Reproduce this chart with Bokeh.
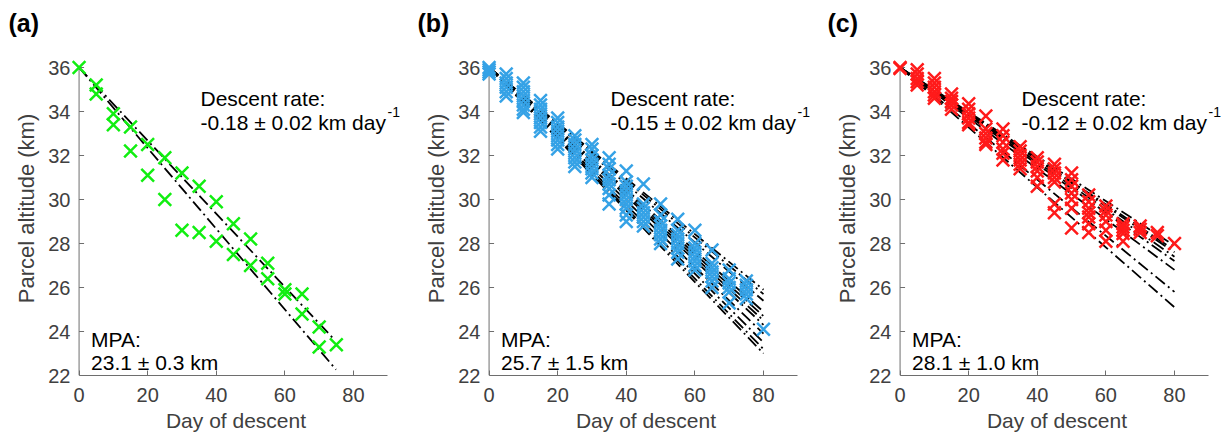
from bokeh.plotting import figure
from bokeh.layouts import row
from bokeh.models import Label, Range1d, FixedTicker
from bokeh.embed import file_html
from bokeh.resources import INLINE

# ---------------- data ----------------
fit_start_day = 0
fit_start_alt = 36.0
x_axis_bounds = (0, 90)
y_axis_bounds = (22, 36)

# (a) green
a_day = [0, 5, 5, 10, 10, 15, 15, 20, 20, 25, 25, 30, 30, 35, 35, 40, 40,
         45, 45, 50, 50, 55, 55, 60, 60, 65, 65, 70, 70, 75]
a_alt = [36.0, 35.2, 34.8, 33.9, 33.4, 33.3, 32.2, 32.5, 31.1, 31.9, 30.0,
         31.2, 28.6, 30.6, 28.5, 29.9, 28.1, 28.9, 27.5, 28.2, 27.0, 27.1,
         26.4, 25.9, 25.7, 25.7, 24.8, 24.2, 23.3, 23.4]
a_fit_end_day = [74.9, 74.0]
a_fit_end_alt = [22.27, 23.7]

# (b) blue
b_clusters = {
    0: [36.0, 35.9, 35.8, 35.7],
    5: [35.7, 35.5, 35.3, 35.1, 34.9, 34.7],
    10: [35.3, 35.1, 34.9, 34.7, 34.5, 34.3, 34.1, 33.95],
    15: [34.5, 34.3, 34.1, 33.9, 33.7, 33.5, 33.3, 33.1],
    20: [33.7, 33.5, 33.3, 33.1, 32.9, 32.7, 32.5, 32.3],
    25: [32.9, 32.7, 32.5, 32.3, 32.1, 31.9, 31.7, 31.5],
    30: [32.5, 32.3, 32.0, 31.8, 31.6, 31.4, 31.2, 31.0],
    35: [31.9, 31.6, 31.4, 31.1, 30.9, 30.7, 30.5, 30.2, 29.8],
    40: [31.3, 30.8, 30.6, 30.4, 30.2, 30.0, 29.8, 29.6, 29.3, 29.0],
    45: [30.7, 29.8, 29.6, 29.4, 29.2, 29.0, 28.8],
    50: [29.8, 29.3, 29.0, 28.8, 28.6, 28.4, 28.2, 28.0],
    55: [29.1, 28.6, 28.4, 28.2, 28.0, 27.8, 27.6, 27.3],
    60: [28.6, 28.0, 27.8, 27.6, 27.4, 27.2, 27.0, 26.8],
    65: [27.7, 27.1, 26.9, 26.7, 26.5, 26.3, 26.0],
    70: [26.8, 26.4, 26.2, 26.0, 25.8, 25.3],
    75: [26.3, 26.1, 25.9, 25.7, 25.5],
    80: [24.1],
}
b_day = [d for d, alts in b_clusters.items() for _ in alts]
b_alt = [a for alts in b_clusters.values() for a in alts]
b_fit_end_day = [80] * 11
b_fit_end_alt = [25.9, 25.7, 25.4, 24.9, 24.7, 24.5, 24.3, 23.9, 23.5, 23.2,
                 23.0]

# (c) red
c_clusters = {
    0: [36.0, 35.95],
    5: [35.9, 35.7, 35.5, 35.35, 35.2],
    10: [35.5, 35.3, 35.1, 34.9, 34.75, 34.6],
    15: [34.8, 34.6, 34.45, 34.3, 34.1],
    20: [34.35, 34.1, 33.9, 33.7, 33.5, 33.4],
    25: [33.8, 33.2, 33.0, 32.8, 32.6, 32.5],
    30: [33.2, 32.9, 32.6, 32.3, 32.1, 31.8],
    35: [32.4, 32.2, 32.0, 31.8, 31.6, 31.4],
    40: [31.9, 31.7, 31.5, 31.3, 31.0, 30.6],
    45: [31.6, 31.4, 31.2, 31.0, 30.8, 29.8, 29.4],
    50: [31.2, 30.9, 30.6, 30.3, 30.0, 29.6, 28.7],
    55: [30.2, 29.9, 29.6, 29.4, 29.2, 28.9, 28.5],
    60: [29.7, 29.5, 29.3, 29.0, 28.6, 28.1],
    65: [28.9, 28.75, 28.6, 28.45, 28.1],
    70: [28.8, 28.65, 28.5],
    75: [28.5, 28.35],
    80: [28.0],
}
c_day = [d for d, alts in c_clusters.items() for _ in alts]
c_alt = [a for alts in c_clusters.values() for a in alts]
c_fit_end_day = [80] * 8
c_fit_end_alt = [27.9, 27.7, 27.6, 27.4, 27.2, 26.8, 25.8, 25.1]

panel_letters = ["(a)", "(b)", "(c)"]
rate_texts = ["-0.18 \u00b1 0.02 km day", "-0.15 \u00b1 0.02 km day",
              "-0.12 \u00b1 0.02 km day"]
mpa_texts = ["23.1 \u00b1 0.3 km", "25.7 \u00b1 1.5 km", "28.1 \u00b1 1.0 km"]
x_ticks = [0, 20, 40, 60, 80]
y_ticks = [22, 24, 26, 28, 30, 32, 34, 36]

FONT = "Liberation Sans"
AXIS_TXT = "#404040"
AXIS_LINE = "#6e6e6e"
FRAME_W = 331
TOP = 41
Y_TOP = 36 + (67 - TOP) / 22.0


def make_panel(letter, days, alts, color, end_days, end_alts, rate, mpa,
               width, left):
    p = figure(width=width, height=437, output_backend="svg",
               toolbar_location=None, x_range=Range1d(-2.5, 94),
               y_range=Range1d(22, Y_TOP),
               min_border_left=left, min_border_right=width - left - FRAME_W,
               min_border_top=TOP, min_border_bottom=62)
    p.outline_line_color = None
    p.xgrid.visible = False
    p.ygrid.visible = False
    p.background_fill_color = "white"
    p.border_fill_color = "white"

    # title letter
    p.title.text = letter
    p.title.align = "left"
    p.title.offset = -(left - 8)
    p.title.standoff = 10
    p.title.text_font = FONT
    p.title.text_font_size = "25px"
    p.title.text_font_style = "bold"
    p.title.text_color = "black"

    # x axis
    xa = p.xaxis[0]
    xa.ticker = FixedTicker(ticks=x_ticks)
    xa.bounds = x_axis_bounds
    xa.major_tick_in = 5
    xa.major_tick_out = 0
    xa.minor_tick_line_color = None
    xa.axis_line_color = AXIS_LINE
    xa.major_tick_line_color = AXIS_LINE
    xa.major_label_text_font = FONT
    xa.major_label_text_font_size = "20px"
    xa.major_label_text_color = AXIS_TXT
    xa.major_label_standoff = 12
    xa.axis_label = "Day of descent"
    xa.axis_label_text_font = FONT
    xa.axis_label_text_font_size = "21px"
    xa.axis_label_text_font_style = "normal"
    xa.axis_label_text_color = AXIS_TXT
    xa.axis_label_standoff = 4

    # y axis: labels only (in the left panel)
    ya = p.yaxis[0]
    ya.ticker = FixedTicker(ticks=y_ticks)
    ya.axis_line_color = None
    ya.major_tick_line_color = None
    ya.minor_tick_line_color = None
    ya.major_tick_in = 0
    ya.major_tick_out = 0
    ya.major_label_text_font = FONT
    ya.major_label_text_font_size = "20px"
    ya.major_label_text_color = AXIS_TXT
    ya.major_label_standoff = 0
    ya.axis_label = "Parcel altitude (km)"
    ya.axis_label_text_font = FONT
    ya.axis_label_text_font_size = "22px"
    ya.axis_label_text_font_style = "normal"
    ya.axis_label_text_color = AXIS_TXT
    ya.axis_label_standoff = 6

    # y axis line and inward ticks at day 0
    p.segment(x0=[x_axis_bounds[0]], y0=[y_axis_bounds[0]],
              x1=[x_axis_bounds[0]], y1=[y_axis_bounds[1]],
              line_color=AXIS_LINE, line_width=1)
    p.ray(x=[x_axis_bounds[0]] * len(y_ticks), y=y_ticks, length=5,
          length_units="screen", angle=0, line_color=AXIS_LINE,
          line_width=1)

    xs = [[fit_start_day, d] for d in end_days]
    ys = [[fit_start_alt, a] for a in end_alts]
    p.multi_line(xs, ys, line_color="black", line_width=1.8,
                 line_dash="12 4 2 4")
    p.scatter(days, alts, marker="x", size=18, line_color=color,
              line_width=2.5)

    p.add_layout(Label(x=35.4, y=34.58, text="Descent rate:", text_font=FONT,
                       text_font_size="21px", text_baseline="alphabetic",
                       text_color="black"))
    p.add_layout(Label(x=35.4, y=33.51, text=rate, text_font=FONT,
                       text_font_size="21px", text_baseline="alphabetic",
                       text_color="black"))
    p.add_layout(Label(x=35.4, y=33.51, x_offset=187, y_offset=10, text="-1",
                       text_font=FONT, text_font_size="14px",
                       text_baseline="alphabetic", text_color="black"))
    p.add_layout(Label(x=3.5, y=23.64, text="MPA:", text_font=FONT,
                       text_font_size="21px", text_baseline="alphabetic",
                       text_color="black"))
    p.add_layout(Label(x=3.5, y=22.6, text=mpa, text_font=FONT,
                       text_font_size="21px", text_baseline="alphabetic",
                       text_color="black"))
    return p


pa = make_panel(panel_letters[0], a_day, a_alt, "#11ee11", a_fit_end_day,
                a_fit_end_alt, rate_texts[0], mpa_texts[0], 409, 70)
pb = make_panel(panel_letters[1], b_day, b_alt, "#35a2e6", b_fit_end_day,
                b_fit_end_alt, rate_texts[1], mpa_texts[1], 410, 71)
pc = make_panel(panel_letters[2], c_day, c_alt, "#ff1a1a", c_fit_end_day,
                c_fit_end_alt, rate_texts[2], mpa_texts[2], 409, 72)

layout = row(pa, pb, pc)
open("out.html", "w").write(file_html(layout, INLINE))
